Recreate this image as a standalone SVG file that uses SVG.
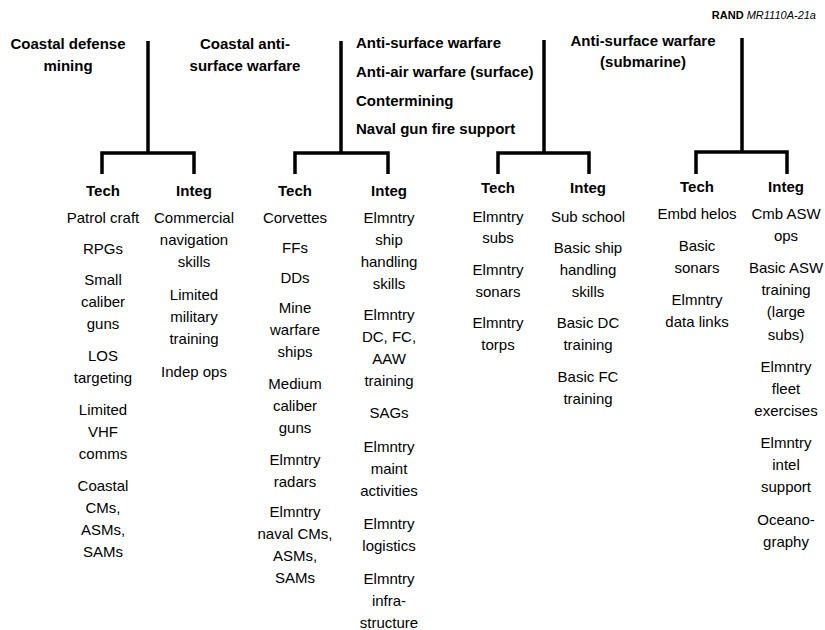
<svg xmlns="http://www.w3.org/2000/svg" width="825" height="630" viewBox="0 0 825 630">
  <style>
    text { font-family: "Liberation Sans", Arial, sans-serif; fill: #000; }
    .title { font-size: 15px; font-weight: bold; }
    .head { font-size: 15px; font-weight: bold; text-anchor: middle; }
    .item { font-size: 15px; text-anchor: middle; }
    .mid { text-anchor: middle; }
    .tag { font-size: 11px; text-anchor: end; }
    .conn { fill: none; stroke: #000; stroke-width: 3.5; stroke-linejoin: miter; stroke-linecap: butt; }
  </style>
  <rect width="825" height="630" fill="#fff"/>

  <text class="tag" x="816" y="19"><tspan font-weight="bold">RAND</tspan> <tspan font-style="italic">MR1110A-21a</tspan></text>

  <!-- tree connectors: stem from each mission down to a bar, legs to Tech / Integ -->
  <g id="connectors">
    <path class="conn" d="M148,41 V153 M102,174 V153 H194 V174"/>
    <path class="conn" d="M341,41 V153 M295,174 V153 H388 V174"/>
    <path class="conn" d="M544,40 V153 M498,174 V153 H589 V174"/>
    <path class="conn" d="M742,38 V152 M696,174 V152 H787 V174"/>
  </g>

  <!-- missions -->
  <g id="mission-coastal-mining">
    <text class="title mid" x="68" y="49">Coastal defense</text>
    <text class="title mid" x="68" y="71">mining</text>
  </g>
  <g id="mission-coastal-asuw">
    <text class="title mid" x="245" y="49">Coastal anti-</text>
    <text class="title mid" x="245" y="71">surface warfare</text>
  </g>
  <g id="mission-surface">
    <text class="title" x="356" y="48">Anti-surface warfare</text>
    <text class="title" x="356" y="77">Anti-air warfare (surface)</text>
    <text class="title" x="356" y="106">Contermining</text>
    <text class="title" x="356" y="134">Naval gun fire support</text>
  </g>
  <g id="mission-submarine">
    <text class="title mid" x="643" y="46">Anti-surface warfare</text>
    <text class="title mid" x="643" y="67">(submarine)</text>
  </g>

  <!-- column 1 -->
  <g id="tech-1">
    <text class="head" x="103" y="196">Tech</text>
    <text class="item" x="103" y="223">Patrol craft</text>
    <text class="item" x="103" y="254">RPGs</text>
    <text class="item" x="103" y="285">Small</text>
    <text class="item" x="103" y="307">caliber</text>
    <text class="item" x="103" y="329">guns</text>
    <text class="item" x="103" y="361">LOS</text>
    <text class="item" x="103" y="383">targeting</text>
    <text class="item" x="103" y="415">Limited</text>
    <text class="item" x="103" y="437">VHF</text>
    <text class="item" x="103" y="459">comms</text>
    <text class="item" x="103" y="491">Coastal</text>
    <text class="item" x="103" y="513">CMs,</text>
    <text class="item" x="103" y="535">ASMs,</text>
    <text class="item" x="103" y="557">SAMs</text>
  </g>
  <g id="integ-1">
    <text class="head" x="194" y="196">Integ</text>
    <text class="item" x="194" y="223">Commercial</text>
    <text class="item" x="194" y="245">navigation</text>
    <text class="item" x="194" y="267">skills</text>
    <text class="item" x="194" y="300">Limited</text>
    <text class="item" x="194" y="322">military</text>
    <text class="item" x="194" y="344">training</text>
    <text class="item" x="194" y="377">Indep ops</text>
  </g>

  <!-- column 2 -->
  <g id="tech-2">
    <text class="head" x="295" y="196">Tech</text>
    <text class="item" x="295" y="223">Corvettes</text>
    <text class="item" x="295" y="253">FFs</text>
    <text class="item" x="295" y="283">DDs</text>
    <text class="item" x="295" y="313">Mine</text>
    <text class="item" x="295" y="335">warfare</text>
    <text class="item" x="295" y="357">ships</text>
    <text class="item" x="295" y="389">Medium</text>
    <text class="item" x="295" y="411">caliber</text>
    <text class="item" x="295" y="433">guns</text>
    <text class="item" x="295" y="465">Elmntry</text>
    <text class="item" x="295" y="487">radars</text>
    <text class="item" x="295" y="517">Elmntry</text>
    <text class="item" x="295" y="539">naval CMs,</text>
    <text class="item" x="295" y="561">ASMs,</text>
    <text class="item" x="295" y="583">SAMs</text>
  </g>
  <g id="integ-2">
    <text class="head" x="389" y="196">Integ</text>
    <text class="item" x="389" y="223">Elmntry</text>
    <text class="item" x="389" y="245">ship</text>
    <text class="item" x="389" y="267">handling</text>
    <text class="item" x="389" y="289">skills</text>
    <text class="item" x="389" y="320">Elmntry</text>
    <text class="item" x="389" y="342">DC, FC,</text>
    <text class="item" x="389" y="364">AAW</text>
    <text class="item" x="389" y="386">training</text>
    <text class="item" x="389" y="418">SAGs</text>
    <text class="item" x="389" y="452">Elmntry</text>
    <text class="item" x="389" y="474">maint</text>
    <text class="item" x="389" y="496">activities</text>
    <text class="item" x="389" y="529">Elmntry</text>
    <text class="item" x="389" y="551">logistics</text>
    <text class="item" x="389" y="584">Elmntry</text>
    <text class="item" x="389" y="606">infra-</text>
    <text class="item" x="389" y="628">structure</text>
  </g>

  <!-- column 3 -->
  <g id="tech-3">
    <text class="head" x="498" y="193">Tech</text>
    <text class="item" x="498" y="222">Elmntry</text>
    <text class="item" x="498" y="243">subs</text>
    <text class="item" x="498" y="275">Elmntry</text>
    <text class="item" x="498" y="297">sonars</text>
    <text class="item" x="498" y="328">Elmntry</text>
    <text class="item" x="498" y="350">torps</text>
  </g>
  <g id="integ-3">
    <text class="head" x="588" y="193">Integ</text>
    <text class="item" x="588" y="222">Sub school</text>
    <text class="item" x="588" y="253">Basic ship</text>
    <text class="item" x="588" y="275">handling</text>
    <text class="item" x="588" y="297">skills</text>
    <text class="item" x="588" y="328">Basic DC</text>
    <text class="item" x="588" y="350">training</text>
    <text class="item" x="588" y="382">Basic FC</text>
    <text class="item" x="588" y="404">training</text>
  </g>

  <!-- column 4 -->
  <g id="tech-4">
    <text class="head" x="697" y="192">Tech</text>
    <text class="item" x="697" y="219">Embd helos</text>
    <text class="item" x="697" y="251">Basic</text>
    <text class="item" x="697" y="273">sonars</text>
    <text class="item" x="697" y="305">Elmntry</text>
    <text class="item" x="697" y="327">data links</text>
  </g>
  <g id="integ-4">
    <text class="head" x="786" y="192">Integ</text>
    <text class="item" x="786" y="219">Cmb ASW</text>
    <text class="item" x="786" y="241">ops</text>
    <text class="item" x="786" y="273">Basic ASW</text>
    <text class="item" x="786" y="295">training</text>
    <text class="item" x="786" y="317">(large</text>
    <text class="item" x="786" y="340">subs)</text>
    <text class="item" x="786" y="372">Elmntry</text>
    <text class="item" x="786" y="394">fleet</text>
    <text class="item" x="786" y="416">exercises</text>
    <text class="item" x="786" y="448">Elmntry</text>
    <text class="item" x="786" y="470">intel</text>
    <text class="item" x="786" y="492">support</text>
    <text class="item" x="786" y="525">Oceano-</text>
    <text class="item" x="786" y="547">graphy</text>
  </g>
</svg>
